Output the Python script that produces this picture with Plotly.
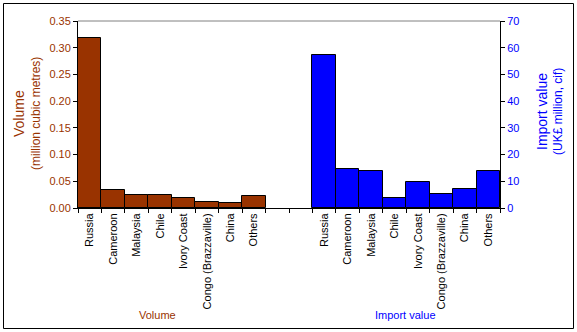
import plotly.graph_objects as go

countries = ["Russia", "Cameroon", "Malaysia", "Chile", "Ivory Coast",
             "Congo (Brazzaville)", "China", "Others"]
volume = [0.318, 0.0337, 0.0243, 0.0243, 0.0187, 0.0118, 0.0099, 0.0225]
import_value = [57.3, 14.6, 13.85, 3.74, 9.7, 5.2, 7.1, 13.85]

BROWN = "#993300"
BLUE = "#0000FF"
FONT = "Liberation Sans, Arial, sans-serif"

vol_x = list(range(len(countries)))
imp_x = [i + len(countries) + 2 for i in range(len(countries))]
n_slots = len(countries) * 2 + 2

fig = go.Figure()
fig.add_trace(go.Bar(x=vol_x, y=volume, width=1, marker=dict(color=BROWN, line=dict(color="black", width=1)),
                     yaxis="y", xaxis="x", showlegend=False))
fig.add_trace(go.Bar(x=imp_x, y=import_value, width=1, marker=dict(color=BLUE, line=dict(color="black", width=1)),
                     yaxis="y2", xaxis="x", showlegend=False))
# invisible trace for tick-mark axis
fig.add_trace(go.Scatter(x=[-0.5], y=[0], xaxis="x2", yaxis="y", mode="markers",
                         marker=dict(opacity=0), showlegend=False, hoverinfo="skip"))

W, H = 577, 332
L, R, T, B = 78, 77, 21, 124
pw = W - L - R
ph = H - T - B

def px(x):
    return (x - L) / pw

def py(y):
    return (H - B - y) / ph

def ann(text, x, y, size, color, angle=0):
    return dict(text=text, xref="paper", yref="paper", x=px(x), y=py(y), textangle=angle,
                xanchor="center", yanchor="middle", showarrow=False,
                font=dict(size=size, color=color, family=FONT))

fig.update_layout(
    width=W, height=H,
    margin=dict(l=L, r=R, t=T, b=B, pad=0),
    paper_bgcolor="white", plot_bgcolor="white",
    font=dict(family=FONT, size=11, color="black"),
    bargap=0,
    xaxis=dict(range=[-0.5, n_slots - 0.5], tickmode="array",
               tickvals=vol_x + imp_x, ticktext=countries + countries,
               tickangle=-90, ticks="", showgrid=False, zeroline=False,
               showline=True, linecolor="black", linewidth=1,
               tickfont=dict(size=11, color="black", family=FONT)),
    xaxis2=dict(range=[-0.5, n_slots - 0.5], overlaying="x", side="bottom",
                tickmode="array", tickvals=[i + 0.5 for i in range(-1, n_slots)],
                showticklabels=False, ticks="outside", ticklen=4, tickcolor="black",
                showgrid=False, zeroline=False, showline=False),
    yaxis=dict(range=[0, 0.35], tickmode="array", tickvals=[i * 0.05 for i in range(8)],
               tickformat=".2f", ticks="outside", ticklen=4, tickcolor="black",
               showline=True, linecolor="black", linewidth=1, showgrid=False, zeroline=False,
               tickfont=dict(size=11, color=BROWN, family=FONT)),
    yaxis2=dict(range=[0, 70], overlaying="y", side="right", tickmode="array",
                tickvals=list(range(0, 71, 10)), ticks="outside", ticklen=4, tickcolor="black",
                showline=True, linecolor="black", linewidth=1, showgrid=False, zeroline=False,
                tickfont=dict(size=11, color=BLUE, family=FONT)),
    shapes=[
        dict(type="line", xref="paper", yref="paper", x0=0, x1=1, y0=1, y1=1,
             line=dict(color="#808080", width=1)),
        dict(type="rect", xref="paper", yref="paper", x0=px(3.5), x1=px(573.5),
             y0=py(328.5), y1=py(3.5), line=dict(color="black", width=1)),
    ],
    annotations=[
        ann("Volume", 19, 114, 14, BROWN, -90),
        ann("(million cubic metres)", 36, 114, 12, BROWN, -90),
        ann("Import value", 542, 112, 14, BLUE, -90),
        ann("(UK£ million, cif)", 558, 112, 12, BLUE, -90),
        ann("Volume", 157, 315, 11, BROWN),
        ann("Import value", 405, 315, 11, BLUE),
    ],
)

fig.write_html("out.html")
